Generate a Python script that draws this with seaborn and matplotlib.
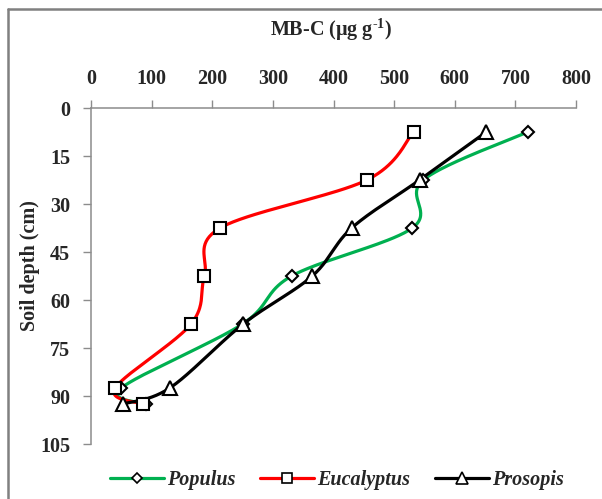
import numpy as np
import pandas as pd
import matplotlib
matplotlib.use("Agg")
import matplotlib.pyplot as plt
from matplotlib.lines import Line2D
import seaborn as sns

# Microbial biomass carbon by soil depth for three tree species
depth_cm = [7.5, 22.5, 37.5, 52.5, 67.5, 87.5, 92.5]
populus = [720, 548, 530, 331, 250, 50, 90]
eucalyptus = [532, 455, 213, 187, 165, 40, 85]
prosopis = [652, 542, 430, 365, 251, 130, 53]

species = ["Populus", "Eucalyptus", "Prosopis"]
values = {"Populus": populus, "Eucalyptus": eucalyptus, "Prosopis": prosopis}
colors = {"Populus": "#00B050", "Eucalyptus": "#FF0000", "Prosopis": "#000000"}
markers = {"Populus": "D", "Eucalyptus": "s", "Prosopis": "^"}
msizes = {"Populus": 6.4, "Eucalyptus": 9.0, "Prosopis": 9.5}

x_ticks = [0, 100, 200, 300, 400, 500, 600, 700, 800]
y_ticks = [0, 15, 30, 45, 60, 75, 90, 105]

sns.set_theme(style="white")
plt.rcParams["font.family"] = ["Liberation Serif", "DejaVu Serif"]
plt.rcParams["mathtext.fontset"] = "custom"
plt.rcParams["mathtext.rm"] = "Liberation Serif:bold"
plt.rcParams["mathtext.bf"] = "Liberation Serif:bold"
plt.rcParams["mathtext.it"] = "Liberation Serif:bold"


def smooth(xs, ys, n=40):
    """Cubic Bezier smoothing through the points (Catmull-Rom style, 1/6 arms)."""
    p = np.column_stack([xs, ys]).astype(float)
    ext = np.vstack([p[0], p, p[-1]])
    out = []
    t = np.linspace(0, 1, n)[:, None]
    for i in range(len(p) - 1):
        p0, p1 = ext[i + 1], ext[i + 2]
        c1 = p0 + (ext[i + 2] - ext[i]) / 6.0
        c2 = p1 - (ext[i + 3] - ext[i + 1]) / 6.0
        seg = ((1 - t) ** 3) * p0 + 3 * ((1 - t) ** 2) * t * c1 + 3 * (1 - t) * t ** 2 * c2 + t ** 3 * p1
        out.append(seg if i == 0 else seg[1:])
    return np.vstack(out)


fig = plt.figure(figsize=(6.02, 4.99), dpi=100)
ax = fig.add_axes([91 / 602, 1 - 444 / 499, 485 / 602, 336 / 499])

for sp in species:
    # the curve is smoothed in a pixel-proportional space so its shape follows the screen
    sx, sy = 485 / 800, 336 / 105
    curve = smooth(np.array(values[sp]) * sx, np.array(depth_cm) * sy)
    cdf = pd.DataFrame({"x": curve[:, 0] / sx, "y": curve[:, 1] / sy})
    sns.lineplot(data=cdf, x="x", y="y", sort=False, estimator=None, ax=ax,
                 color=colors[sp], lw=2.3, zorder=2, legend=False)
    pdf = pd.DataFrame({"x": values[sp], "y": depth_cm})
    ax.plot(pdf["x"], pdf["y"], ls="none", marker=markers[sp], ms=msizes[sp],
            mfc="white", mec="black", mew=1.5, zorder=3)

ax.set_xlim(0, 800)
ax.set_ylim(105, 0)
ax.set_xticks(x_ticks)
ax.set_yticks(y_ticks)
ax.set_xlabel("")
ax.set_ylabel("")
ax.xaxis.tick_top()
ax.tick_params(axis="x", which="both", top=True, bottom=False, length=6, width=1,
               color="#8c8c8c", pad=8, labelsize=14.5)
ax.tick_params(axis="y", which="both", left=True, length=6, width=1,
               color="#8c8c8c", pad=9, labelsize=14.5)
for lab in ax.get_xticklabels() + ax.get_yticklabels():
    lab.set_fontweight("bold")
for side in ["right", "bottom"]:
    ax.spines[side].set_visible(False)
for side in ["top", "left"]:
    ax.spines[side].set_color("#8c8c8c")
    ax.spines[side].set_linewidth(1.1)

fig.text(331 / 602, 1 - 30 / 499, "MB-C (\u03bcg g$^{\u2010 1}$)", ha="center", va="center",
         fontsize=14.5, fontweight="bold")
fig.text(30 / 602, 1 - 266 / 499, "Soil depth (cm)", rotation=90, ha="center", va="center",
         fontsize=14.5, fontweight="bold")

handles = [Line2D([], [], color=colors[sp], lw=2.3, marker=markers[sp],
                  ms=msizes[sp] * 0.85, mfc="white", mec="black", mew=1.2) for sp in species]
leg = fig.legend(handles, species, loc="center", bbox_to_anchor=(337 / 602, 1 - 480 / 499),
                 ncol=3, frameon=False, handlelength=2.7, handletextpad=0.15, columnspacing=1.2,
                 prop={"family": "Liberation Serif", "style": "italic", "weight": "bold", "size": 14.5})

# chart-area border along the top and left
fig.add_artist(Line2D([8 / 602, 8 / 602], [0, 1 - 9 / 499], transform=fig.transFigure,
                      color="#808080", lw=1.8))
fig.add_artist(Line2D([8 / 602, 1], [1 - 9 / 499, 1 - 9 / 499], transform=fig.transFigure,
                      color="#808080", lw=1.8))

fig.savefig("out.png", dpi=100)
